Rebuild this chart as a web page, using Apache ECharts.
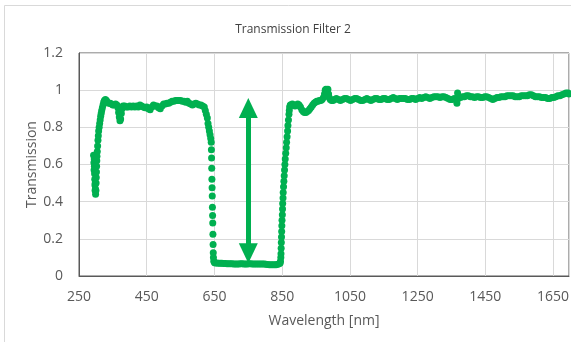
<!DOCTYPE html>
<html><head><meta charset="utf-8">
<script src="https://cdn.jsdelivr.net/npm/echarts@6/dist/echarts.min.js"></script>
<style>html,body{margin:0;padding:0;background:#fff}#c{width:571px;height:342px}</style>
</head><body><div id="c"></div>
<script>
// Wavelength [nm] of each measured point
const wavelength = [
 293,294,294.5,295,295.5,296,296.5,297,297.5,298,298.5,299,300,300.5,301,301.5,302,302.5,303,304,
 305,306,307,308,309.5,311,312.5,314,315.5,317,319,321,323,325,328,331,334,338,342,346,
 350,354,358,362,365,367,369,371,373,375,377,380,385,390,395,400,405,410,415,420,
 425,430,435,440,445,450,455,460,465,470,475,480,485,490,495,500,505,510,515,520,
 525,530,535,540,545,550,555,560,565,570,575,580,585,590,595,600,605,610,615,620,
 623,626,629,631,633,635,637,639,640.5,641,641.5,642,642.5,643,643.5,644,644.5,645,645.5,646,
 646.5,647,648,650,652,657,662,667,672,677,682,687,692,697,702,707,712,717,722,727,
 732,737,742,747,752,757,762,767,772,777,782,787,792,797,802,807,812,817,822,827,
 832,837,841,844,845,846,846.5,847,847.5,848,848.5,849,849.5,850.5,851,851.5,852.5,853,854,855,
 856,857,858,859,860.5,862,863,864.5,866,867,868.5,870,871,872,874,876,880,884,888,892,
 896,900,904,908,912,916,920,924,928,932,936,940,944,948,952,956,960,964,968,972,
 975,977,979,981,983,985,987,989,992,996,1000,1004,1010,1016,1022,1028,1034,1040,1046,1052,
 1058,1064,1070,1076,1082,1088,1094,1100,1106,1112,1118,1124,1130,1136,1142,1148,1154,1160,1166,1172,
 1178,1184,1190,1196,1202,1208,1214,1220,1226,1232,1238,1244,1250,1256,1262,1268,1274,1280,1286,1292,
 1298,1304,1310,1316,1322,1328,1334,1340,1346,1352,1358,1364,1366,1368,1370,1376,1382,1388,1394,1400,
 1406,1412,1418,1424,1430,1436,1442,1448,1454,1460,1466,1472,1478,1484,1490,1496,1502,1508,1514,1520,
 1526,1532,1538,1544,1550,1556,1562,1568,1574,1580,1586,1592,1598,1604,1610,1616,1622,1628,1634,1640,
 1646,1652,1658,1664,1670,1676,1682,1688,1694,1697
];
// Transmission at each wavelength
const transmission = [
 0.65,0.61,0.57,0.63,0.59,0.55,0.52,0.49,0.46,0.50,0.47,0.44,0.46,0.50,0.53,0.56,0.59,0.62,0.645,0.67,
 0.70,0.73,0.755,0.78,0.80,0.82,0.84,0.86,0.875,0.89,0.905,0.92,0.935,0.945,0.95,0.945,0.935,0.93,0.93,0.925,
 0.92,0.92,0.925,0.92,0.905,0.88,0.855,0.835,0.845,0.875,0.90,0.915,0.915,0.91,0.91,0.915,0.91,0.915,0.91,0.915,
 0.91,0.92,0.915,0.91,0.905,0.91,0.90,0.895,0.91,0.92,0.915,0.915,0.905,0.90,0.915,0.925,0.925,0.93,0.93,0.935,
 0.94,0.94,0.945,0.945,0.945,0.945,0.94,0.94,0.935,0.94,0.93,0.925,0.92,0.925,0.93,0.925,0.92,0.92,0.915,0.91,
 0.89,0.87,0.85,0.82,0.80,0.78,0.76,0.74,0.72,0.68,0.635,0.58,0.52,0.475,0.43,0.37,0.325,0.285,0.225,0.17,
 0.125,0.10,0.08,0.072,0.07,0.07,0.069,0.068,0.068,0.067,0.067,0.066,0.066,0.066,0.066,0.065,0.065,0.065,0.065,0.066,
 0.066,0.065,0.065,0.065,0.066,0.066,0.065,0.065,0.064,0.064,0.064,0.065,0.065,0.064,0.063,0.062,0.061,0.060,0.060,0.060,
 0.061,0.063,0.066,0.07,0.08,0.10,0.12,0.15,0.18,0.21,0.24,0.27,0.30,0.33,0.36,0.39,0.42,0.45,0.48,0.51,
 0.54,0.57,0.60,0.63,0.66,0.69,0.72,0.75,0.78,0.81,0.84,0.87,0.89,0.91,0.92,0.92,0.925,0.92,0.915,0.92,
 0.925,0.92,0.91,0.895,0.885,0.88,0.88,0.885,0.89,0.90,0.91,0.92,0.93,0.935,0.94,0.94,0.945,0.945,0.95,0.96,
 0.98,1.0,1.005,1.0,0.99,1.005,0.98,0.96,0.95,0.945,0.945,0.95,0.955,0.95,0.945,0.95,0.955,0.955,0.95,0.945,
 0.95,0.955,0.955,0.95,0.945,0.945,0.95,0.955,0.95,0.945,0.95,0.955,0.955,0.95,0.95,0.955,0.955,0.95,0.95,0.955,
 0.96,0.955,0.95,0.955,0.955,0.955,0.955,0.95,0.95,0.955,0.955,0.95,0.955,0.96,0.955,0.96,0.965,0.96,0.955,0.96,
 0.965,0.965,0.965,0.96,0.965,0.965,0.96,0.955,0.95,0.95,0.955,0.95,0.93,0.985,0.955,0.96,0.965,0.965,0.97,0.97,
 0.965,0.965,0.96,0.965,0.965,0.96,0.96,0.965,0.965,0.96,0.955,0.95,0.955,0.96,0.96,0.965,0.965,0.965,0.97,0.97,
 0.97,0.97,0.965,0.965,0.965,0.97,0.97,0.97,0.97,0.975,0.975,0.97,0.965,0.965,0.965,0.96,0.96,0.96,0.955,0.955,
 0.96,0.96,0.965,0.97,0.97,0.975,0.98,0.985,0.985,0.98
];
// Axis ranges / tick steps
const xAxisRange = [250, 1697];
const xTickStep = 200;
const yAxisRange = [0, 1.2];
const yTickStep = 0.2;
// Double-headed arrow annotation (data coordinates: wavelength, from, to)
const arrowWavelength = 750;
const arrowSpan = [0.122, 0.904];

const points = wavelength.map((w, i) => [w, transmission[i]]);
const green = '#00B050';
const textColor = '#595959';
const font = 'Open Sans';

const chart = echarts.init(document.getElementById('c'), null, {renderer: 'canvas'});
chart.setOption({
  animation: false,
  backgroundColor: '#fff',
  title: {
    text: 'Transmission Filter 2',
    left: 288, top: 19, textAlign: 'center',
    textStyle: {fontFamily: font, fontSize: 12, fontWeight: 'normal', color: '#404040'}
  },
  graphic: [{
    type: 'rect', silent: true, z: -10,
    shape: {x: 4.5, y: 5.5, width: 700, height: 500},
    style: {fill: 'none', stroke: '#d9d9d9', lineWidth: 1}
  }],
  grid: {
    left: 79, right: 2, top: 53, bottom: 66,
    containLabel: false, outerBoundsMode: 'none',
    show: true, borderColor: '#595959', borderWidth: 1, backgroundColor: 'transparent'
  },
  xAxis: {
    type: 'value', min: xAxisRange[0], max: xAxisRange[1], interval: xTickStep,
    name: 'Wavelength [nm]', nameLocation: 'middle', nameGap: 38, nameMoveOverlap: false,
    nameTextStyle: {fontFamily: font, fontSize: 14, color: textColor},
    axisLine: {show: true, lineStyle: {color: '#595959', width: 1}},
    axisTick: {show: false},
    axisLabel: {fontFamily: font, fontSize: 14, color: textColor, margin: 14, showMaxLabel: false, showMinLabel: true,
      formatter: v => String(v)},
    splitLine: {show: true, lineStyle: {color: '#d9d9d9', width: 1}}
  },
  yAxis: {
    type: 'value', min: yAxisRange[0], max: yAxisRange[1], interval: yTickStep,
    name: 'Transmission', nameLocation: 'middle', nameGap: 40, nameRotate: 90, nameMoveOverlap: false,
    nameTextStyle: {fontFamily: font, fontSize: 14, color: textColor},
    axisLine: {show: true, lineStyle: {color: '#595959', width: 1}},
    axisTick: {show: false},
    axisLabel: {fontFamily: font, fontSize: 14, color: textColor, margin: 16,
      formatter: v => String(Math.round(v * 10) / 10)},
    splitLine: {show: true, lineStyle: {color: '#d9d9d9', width: 1}}
  },
  series: [{
    type: 'scatter',
    data: points,
    symbol: 'circle',
    symbolSize: 7,
    itemStyle: {color: green, opacity: 1},
    silent: true,
    markLine: {
      silent: true,
      symbol: ['triangle', 'triangle'],
      symbolSize: [19, 20],
      label: {show: false},
      lineStyle: {color: green, width: 5, type: 'solid', opacity: 1},
      emphasis: {disabled: true},
      data: [[{coord: [arrowWavelength, arrowSpan[0]]}, {coord: [arrowWavelength, arrowSpan[1]]}]]
    }
  }]
});
</script>
</body></html>
